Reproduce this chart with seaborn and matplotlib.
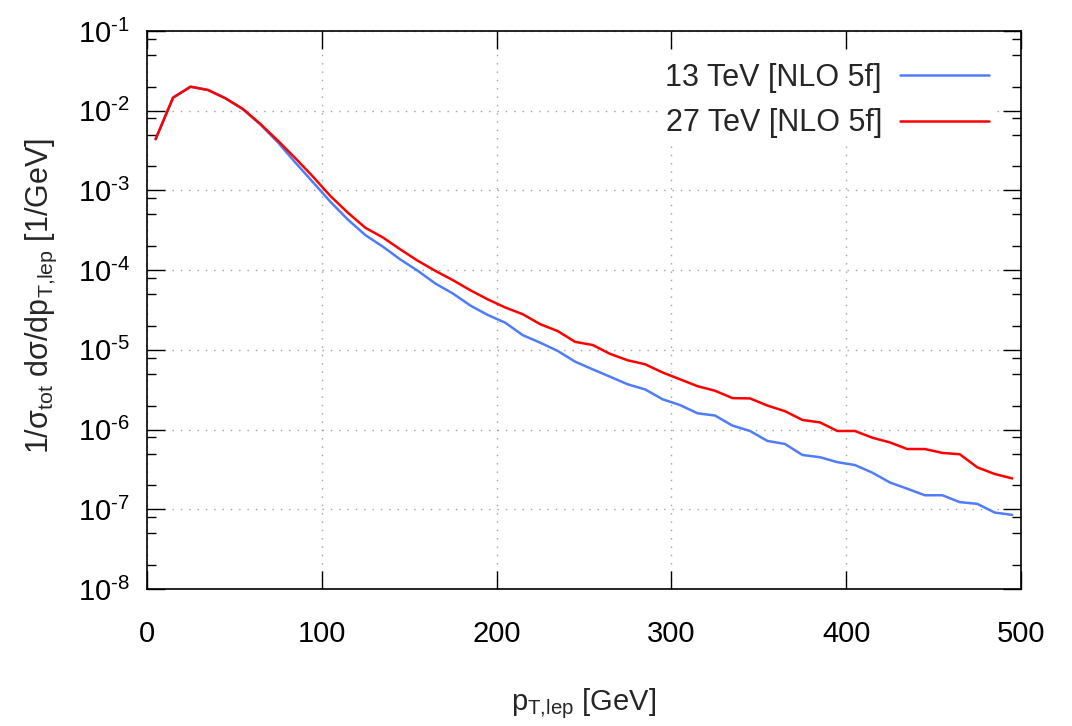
import numpy as np
import pandas as pd
import matplotlib
matplotlib.use("Agg")
import matplotlib.pyplot as plt
import matplotlib.ticker as mticker
import seaborn as sns

# bin centres of p_T,lep [GeV]
pt = [5, 15, 25, 35, 45, 55, 65, 75, 85, 95,
      105, 115, 125, 135, 145, 155, 165, 175, 185, 195,
      205, 215, 225, 235, 245, 255, 265, 275, 285, 295,
      305, 315, 325, 335, 345, 355, 365, 375, 385, 395,
      405, 415, 425, 435, 445, 455, 465, 475, 485, 495]

# 13 TeV [NLO 5f], normalised distribution
tev13 = [4.4e-3, 1.46e-2, 2.0e-2, 1.82e-2, 1.43e-2, 1.04e-2, 6.7e-3, 4.0e-3, 2.23e-3, 1.27e-3,
         7.2e-4, 4.3e-4, 2.75e-4, 1.97e-4, 1.36e-4, 9.8e-5, 6.8e-5, 5.1e-5, 3.6e-5, 2.74e-5,
         2.19e-5, 1.53e-5, 1.23e-5, 9.7e-6, 7.1e-6, 5.7e-6, 4.6e-6, 3.7e-6, 3.19e-6, 2.4e-6,
         2.03e-6, 1.6e-6, 1.5e-6, 1.12e-6, 9.6e-7, 7.2e-7, 6.6e-7, 4.8e-7, 4.5e-7, 3.9e-7,
         3.59e-7, 2.88e-7, 2.17e-7, 1.81e-7, 1.5e-7, 1.5e-7, 1.23e-7, 1.17e-7, 9.1e-8, 8.5e-8]

# 27 TeV [NLO 5f]
tev27 = [4.4e-3, 1.46e-2, 2.0e-2, 1.82e-2, 1.43e-2, 1.05e-2, 6.8e-3, 4.2e-3, 2.53e-3, 1.49e-3,
         8.5e-4, 5.25e-4, 3.4e-4, 2.57e-4, 1.82e-4, 1.31e-4, 9.8e-5, 7.5e-5, 5.6e-5, 4.3e-5,
         3.4e-5, 2.8e-5, 2.1e-5, 1.72e-5, 1.26e-5, 1.15e-5, 8.9e-6, 7.4e-6, 6.6e-6, 5.2e-6,
         4.27e-6, 3.5e-6, 3.07e-6, 2.48e-6, 2.46e-6, 2.0e-6, 1.7e-6, 1.32e-6, 1.23e-6, 9.6e-7,
         9.6e-7, 7.9e-7, 6.9e-7, 5.7e-7, 5.7e-7, 5.1e-7, 4.9e-7, 3.36e-7, 2.77e-7, 2.44e-7]

labels = ["13 TeV [NLO 5f]", "27 TeV [NLO 5f]"]
colors = ["#4f7dfa", "#ff0000"]

df = pd.DataFrame({
    "pt": pt + pt,
    "value": tev13 + tev27,
    "energy": [labels[0]] * len(pt) + [labels[1]] * len(pt),
})

sns.set_style("ticks")
plt.rcParams["font.family"] = ["Liberation Sans", "DejaVu Sans"]
plt.rcParams["mathtext.fontset"] = "custom"
plt.rcParams["mathtext.rm"] = "Liberation Sans"
plt.rcParams["mathtext.it"] = "Liberation Sans:italic"
plt.rcParams["mathtext.default"] = "regular"

fig = plt.figure(figsize=(10.72, 7.26), dpi=100)
ax = fig.add_axes([0.137, 0.1887, 0.8154, 0.7686])

sns.lineplot(data=df, x="pt", y="value", hue="energy", palette=colors,
             hue_order=labels, linewidth=1.8, legend=False, ax=ax)

ax.set_yscale("log")
ax.set_xlim(0, 500)
ax.set_ylim(1e-8, 1e-1)

ax.xaxis.set_major_locator(mticker.MultipleLocator(100))
ax.xaxis.set_minor_locator(mticker.NullLocator())
ax.yaxis.set_major_locator(mticker.LogLocator(base=10, numticks=20))
ax.yaxis.set_minor_locator(mticker.LogLocator(base=10, subs=[2, 5, 8], numticks=20))
ax.yaxis.set_major_formatter(mticker.FuncFormatter(
    lambda v, p: r"10$^{\text{-%d}}$" % abs(int(round(np.log10(v))))))

ax.tick_params(axis="both", which="both", direction="in",
               top=True, right=True, colors="black", labelsize=21)
ax.tick_params(axis="both", which="major", length=13, width=1.0)
ax.tick_params(axis="y", which="minor", length=6.5, width=1.0)
ax.tick_params(axis="x", which="major", pad=22)
ax.tick_params(axis="y", which="major", pad=12)

for s in ax.spines.values():
    s.set_linewidth(1.2)
    s.set_color("black")

ax.grid(True, which="major", color="#a0a0a0", linewidth=1.0,
        linestyle=(0, (1, 5)))

ax.set_xlabel(r"p$_{\text{T,lep}}$ [GeV]", fontsize=21, labelpad=28)
ax.set_ylabel(r"1/$\mathrm{\sigma}_{\text{tot}}$ d$\mathrm{\sigma}$/dp$_{\text{T,lep}}$ [1/GeV]",
              fontsize=22)
ax.yaxis.set_label_coords(-0.1, 0.525)

leg = ax.legend(handles=ax.lines[:2], labels=labels, loc="upper right",
                markerfirst=False, fontsize=22, handlelength=2.9,
                handletextpad=0.6, frameon=True, fancybox=False, framealpha=1.0,
                borderaxespad=0.8, borderpad=0.25, labelspacing=0.5)
leg.get_frame().set_edgecolor("none")
leg.get_frame().set_facecolor("white")

fig.savefig("out.png", dpi=100)
